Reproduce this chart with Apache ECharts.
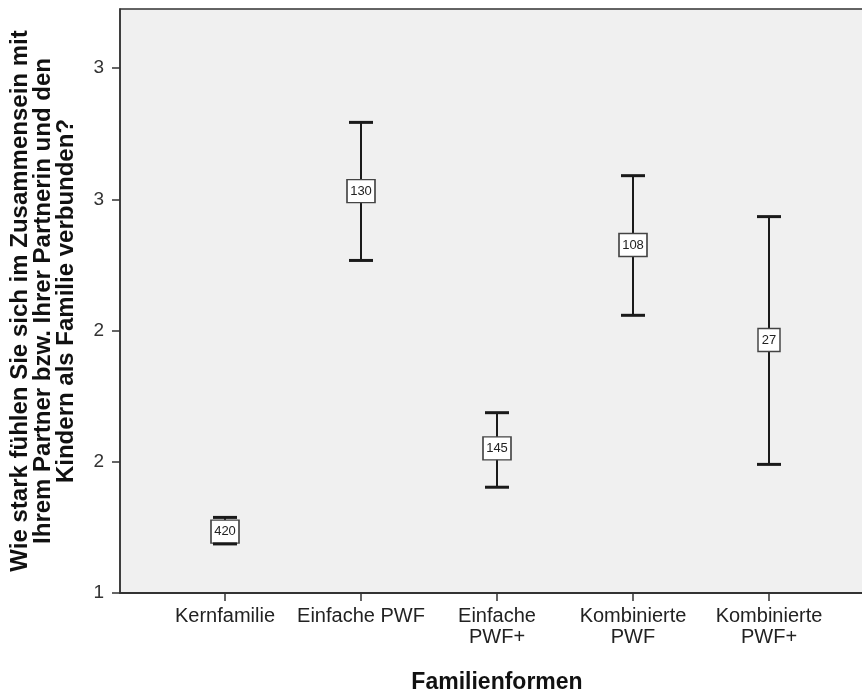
<!DOCTYPE html>
<html>
<head>
<meta charset="utf-8">
<script src="https://cdn.jsdelivr.net/npm/echarts@6/dist/echarts.min.js"></script>
<style>
  html, body { margin: 0; padding: 0; background: #fff; }
  #main { width: 862px; height: 691px; }
</style>
</head>
<body>
<div id="main"></div>
<script>
// Familienformen
var categories = ['Kernfamilie', 'Einfache PWF', 'Einfache\nPWF+', 'Kombinierte\nPWF', 'Kombinierte\nPWF+'];
var counts = [420, 130, 145, 108, 27];
var means = [1.234, 2.531, 1.551, 2.326, 1.964];
var lower = [1.187, 2.267, 1.403, 2.058, 1.490];
var upper = [1.288, 2.793, 1.687, 2.590, 2.434];
// y ticks (SPSS rounds labels to integers)
var yTicks = [1, 1.5, 2, 2.5, 3];

var yMin = 1, yMax = 3.225;
var font = 'Liberation Sans, Arial, sans-serif';

var barData = categories.map(function (c, i) { return [i, lower[i], upper[i]]; });
var pointData = categories.map(function (c, i) { return [i, means[i], counts[i]]; });

function whisker(params, api) {
  var x = api.value(0);
  var hi = api.coord([x, api.value(2)]);
  var lo = api.coord([x, api.value(1)]);
  return {
    type: 'line',
    shape: { x1: hi[0], y1: hi[1], x2: lo[0], y2: lo[1] },
    style: { stroke: '#1a1a1a', lineWidth: 2 }
  };
}
function caps(params, api) {
  var x = api.value(0);
  var hi = api.coord([x, api.value(2)]);
  var lo = api.coord([x, api.value(1)]);
  var w = 12;
  var st = { stroke: '#1a1a1a', lineWidth: 3 };
  return {
    type: 'group',
    children: [
      { type: 'line', shape: { x1: hi[0] - w, y1: hi[1], x2: hi[0] + w, y2: hi[1] }, style: st },
      { type: 'line', shape: { x1: lo[0] - w, y1: lo[1], x2: lo[0] + w, y2: lo[1] }, style: st }
    ]
  };
}

var chart = echarts.init(document.getElementById('main'));
chart.setOption({
  backgroundColor: '#fff',
  animation: false,
  grid: [
    { left: 120, right: -10, top: 9, bottom: 98, show: true, backgroundColor: '#f0f0f0',
      borderColor: '#333', borderWidth: 1.5, containLabel: false, outerBoundsMode: 'none' },
    { left: 157, width: 680, top: 9, bottom: 98, containLabel: false, outerBoundsMode: 'none' }
  ],
  xAxis: [
    { gridIndex: 0, type: 'value', min: 0, max: 1,
      axisLine: { show: true, lineStyle: { color: '#333', width: 2 } },
      axisTick: { show: false }, axisLabel: { show: false }, splitLine: { show: false } },
    { gridIndex: 1, type: 'category', data: categories,
      axisLine: { show: false },
      axisTick: { show: true, alignWithLabel: true, length: 8, lineStyle: { color: '#333', width: 1.5 } },
      axisLabel: { color: '#222', fontSize: 20, fontFamily: font, lineHeight: 21, margin: 13, interval: 0 },
      name: 'Familienformen', nameLocation: 'middle', nameGap: 78,
      nameTextStyle: { fontSize: 23, fontWeight: 'bold', color: '#111', fontFamily: font } }
  ],
  yAxis: [
    { gridIndex: 0, type: 'value', min: yMin, max: yMax,
      axisLine: { show: true, lineStyle: { color: '#333', width: 1.5 } },
      axisTick: { show: true, length: 8, customValues: yTicks, lineStyle: { color: '#333', width: 1.5 } },
      axisLabel: { color: '#333', fontSize: 19, fontFamily: font, margin: 16, customValues: yTicks,
        formatter: function (v) { return String(Math.round(v)); } },
      splitLine: { show: false },
      name: 'Wie stark fühlen Sie sich im Zusammensein mit\nIhrem Partner bzw. Ihrer Partnerin und den\nKindern als Familie verbunden?',
      nameLocation: 'middle', nameRotate: 90, nameGap: 42,
      nameTextStyle: { fontSize: 24, fontWeight: 'bold', color: '#111', lineHeight: 23, align: 'center',
        fontFamily: font } },
    { gridIndex: 1, type: 'value', min: yMin, max: yMax, show: false, splitLine: { show: false } }
  ],
  series: [
    { type: 'custom', xAxisIndex: 1, yAxisIndex: 1, renderItem: whisker, data: barData, z: 2, silent: true },
    { type: 'scatter', xAxisIndex: 1, yAxisIndex: 1, data: pointData, z: 3,
      symbol: 'rect',
      symbolSize: function (v) { return [String(v[2]).length > 2 ? 28 : 22, 23]; },
      itemStyle: { color: '#fff', borderColor: '#444', borderWidth: 1.5, opacity: 1 },
      label: { show: true, position: 'inside', color: '#222', fontSize: 13, fontFamily: font,
        formatter: function (p) { return p.value[2]; } } },
    { type: 'custom', xAxisIndex: 1, yAxisIndex: 1, renderItem: caps, data: barData, z: 4, silent: true }
  ]
});
</script>
</body>
</html>
